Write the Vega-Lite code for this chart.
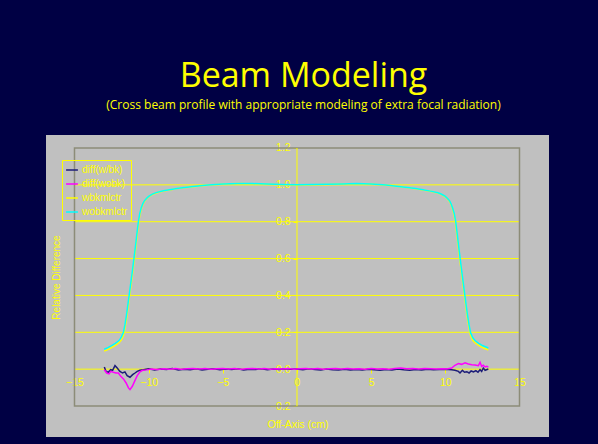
{
  "$schema": "https://vega.github.io/schema/vega-lite/v6.json",
  "width": 503,
  "height": 302,
  "autosize": "none",
  "padding": {"left": 46, "top": 135, "right": 49, "bottom": 7},
  "background": "#000044",
  "title": {
    "text": "Beam Modeling",
    "subtitle": "(Cross beam profile with appropriate modeling of extra focal radiation)",
    "anchor": "middle",
    "font": "Open Sans",
    "fontSize": 34,
    "fontWeight": "normal",
    "color": "#ffff00",
    "subtitleFont": "Open Sans",
    "subtitleFontSize": 12,
    "subtitleColor": "#ffff00",
    "subtitlePadding": 6,
    "offset": 24,
    "dx": 6
  },
  "config": {
    "view": {"fill": "#c0c0c0", "stroke": null}
  },
  "datasets": {
    "grid": [
      {"x": -15, "value": 0}, {"x": -15, "value": 0.2}, {"x": -15, "value": 0.4}, {"x": -15, "value": 0.6}, {"x": -15, "value": 0.8}, {"x": -15, "value": 1.0}
    ],
    "one": [{"x": 0, "value": -0.2}],
    "curves": [
      {"x": -12.99, "value": 0.012, "series": "diff(w/bk)"},
      {"x": -12.88, "value": -0.012, "series": "diff(w/bk)"},
      {"x": -12.72, "value": -0.017, "series": "diff(w/bk)"},
      {"x": -12.56, "value": -0.003, "series": "diff(w/bk)"},
      {"x": -12.43, "value": -0.006, "series": "diff(w/bk)"},
      {"x": -12.27, "value": 0.019, "series": "diff(w/bk)"},
      {"x": -12.12, "value": 0.006, "series": "diff(w/bk)"},
      {"x": -11.94, "value": -0.012, "series": "diff(w/bk)"},
      {"x": -11.76, "value": -0.021, "series": "diff(w/bk)"},
      {"x": -11.6, "value": -0.015, "series": "diff(w/bk)"},
      {"x": -11.45, "value": -0.035, "series": "diff(w/bk)"},
      {"x": -11.26, "value": -0.044, "series": "diff(w/bk)"},
      {"x": -11.08, "value": -0.03, "series": "diff(w/bk)"},
      {"x": -10.92, "value": -0.021, "series": "diff(w/bk)"},
      {"x": -10.77, "value": -0.012, "series": "diff(w/bk)"},
      {"x": -10.59, "value": -0.006, "series": "diff(w/bk)"},
      {"x": -10.36, "value": -0.003, "series": "diff(w/bk)"},
      {"x": -10.0, "value": 0.002, "series": "diff(w/bk)"},
      {"x": -9.6, "value": -0.004, "series": "diff(w/bk)"},
      {"x": -9.2, "value": 0.001, "series": "diff(w/bk)"},
      {"x": -8.8, "value": -0.002, "series": "diff(w/bk)"},
      {"x": -8.4, "value": 0.003, "series": "diff(w/bk)"},
      {"x": -8.0, "value": -0.005, "series": "diff(w/bk)"},
      {"x": -7.6, "value": 0.0, "series": "diff(w/bk)"},
      {"x": -7.2, "value": -0.003, "series": "diff(w/bk)"},
      {"x": -6.8, "value": 0.002, "series": "diff(w/bk)"},
      {"x": -6.4, "value": -0.004, "series": "diff(w/bk)"},
      {"x": -6.0, "value": -0.001, "series": "diff(w/bk)"},
      {"x": -5.6, "value": 0.002, "series": "diff(w/bk)"},
      {"x": -5.2, "value": -0.003, "series": "diff(w/bk)"},
      {"x": -4.8, "value": 0.001, "series": "diff(w/bk)"},
      {"x": -4.4, "value": -0.002, "series": "diff(w/bk)"},
      {"x": -4.0, "value": 0.002, "series": "diff(w/bk)"},
      {"x": -3.6, "value": -0.004, "series": "diff(w/bk)"},
      {"x": -3.2, "value": 0.0, "series": "diff(w/bk)"},
      {"x": -2.8, "value": -0.002, "series": "diff(w/bk)"},
      {"x": -2.4, "value": 0.002, "series": "diff(w/bk)"},
      {"x": -2.0, "value": -0.003, "series": "diff(w/bk)"},
      {"x": -1.6, "value": 0.001, "series": "diff(w/bk)"},
      {"x": -1.2, "value": -0.002, "series": "diff(w/bk)"},
      {"x": -0.8, "value": 0.002, "series": "diff(w/bk)"},
      {"x": -0.4, "value": -0.001, "series": "diff(w/bk)"},
      {"x": 0.0, "value": 0.001, "series": "diff(w/bk)"},
      {"x": 0.4, "value": -0.003, "series": "diff(w/bk)"},
      {"x": 0.8, "value": 0.002, "series": "diff(w/bk)"},
      {"x": 1.2, "value": -0.002, "series": "diff(w/bk)"},
      {"x": 1.6, "value": -0.004, "series": "diff(w/bk)"},
      {"x": 2.0, "value": 0.001, "series": "diff(w/bk)"},
      {"x": 2.4, "value": -0.003, "series": "diff(w/bk)"},
      {"x": 2.8, "value": -0.005, "series": "diff(w/bk)"},
      {"x": 3.2, "value": 0.0, "series": "diff(w/bk)"},
      {"x": 3.6, "value": -0.004, "series": "diff(w/bk)"},
      {"x": 4.0, "value": -0.002, "series": "diff(w/bk)"},
      {"x": 4.4, "value": -0.005, "series": "diff(w/bk)"},
      {"x": 4.8, "value": -0.001, "series": "diff(w/bk)"},
      {"x": 5.2, "value": -0.003, "series": "diff(w/bk)"},
      {"x": 5.6, "value": -0.006, "series": "diff(w/bk)"},
      {"x": 6.0, "value": -0.002, "series": "diff(w/bk)"},
      {"x": 6.4, "value": -0.004, "series": "diff(w/bk)"},
      {"x": 6.8, "value": 0.001, "series": "diff(w/bk)"},
      {"x": 7.2, "value": -0.003, "series": "diff(w/bk)"},
      {"x": 7.6, "value": -0.006, "series": "diff(w/bk)"},
      {"x": 8.0, "value": -0.002, "series": "diff(w/bk)"},
      {"x": 8.4, "value": -0.004, "series": "diff(w/bk)"},
      {"x": 8.8, "value": 0.0, "series": "diff(w/bk)"},
      {"x": 9.2, "value": -0.003, "series": "diff(w/bk)"},
      {"x": 9.6, "value": -0.002, "series": "diff(w/bk)"},
      {"x": 10.0, "value": -0.001, "series": "diff(w/bk)"},
      {"x": 10.43, "value": -0.003, "series": "diff(w/bk)"},
      {"x": 10.65, "value": -0.006, "series": "diff(w/bk)"},
      {"x": 10.88, "value": -0.012, "series": "diff(w/bk)"},
      {"x": 10.99, "value": -0.021, "series": "diff(w/bk)"},
      {"x": 11.15, "value": -0.006, "series": "diff(w/bk)"},
      {"x": 11.29, "value": -0.017, "series": "diff(w/bk)"},
      {"x": 11.45, "value": -0.014, "series": "diff(w/bk)"},
      {"x": 11.6, "value": -0.021, "series": "diff(w/bk)"},
      {"x": 11.74, "value": -0.01, "series": "diff(w/bk)"},
      {"x": 11.9, "value": -0.015, "series": "diff(w/bk)"},
      {"x": 12.06, "value": -0.008, "series": "diff(w/bk)"},
      {"x": 12.2, "value": -0.017, "series": "diff(w/bk)"},
      {"x": 12.34, "value": -0.003, "series": "diff(w/bk)"},
      {"x": 12.45, "value": -0.012, "series": "diff(w/bk)"},
      {"x": 12.56, "value": 0.006, "series": "diff(w/bk)"},
      {"x": 12.68, "value": -0.006, "series": "diff(w/bk)"},
      {"x": 12.9, "value": 0.001, "series": "diff(w/bk)"},

      {"x": -12.99, "value": -0.003, "series": "diff(wobk)"},
      {"x": -12.83, "value": -0.021, "series": "diff(wobk)"},
      {"x": -12.67, "value": -0.026, "series": "diff(wobk)"},
      {"x": -12.56, "value": -0.012, "series": "diff(wobk)"},
      {"x": -12.38, "value": -0.017, "series": "diff(wobk)"},
      {"x": -12.2, "value": -0.021, "series": "diff(wobk)"},
      {"x": -12.04, "value": -0.021, "series": "diff(wobk)"},
      {"x": -11.88, "value": -0.039, "series": "diff(wobk)"},
      {"x": -11.7, "value": -0.053, "series": "diff(wobk)"},
      {"x": -11.52, "value": -0.075, "series": "diff(wobk)"},
      {"x": -11.36, "value": -0.102, "series": "diff(wobk)"},
      {"x": -11.26, "value": -0.111, "series": "diff(wobk)"},
      {"x": -11.1, "value": -0.093, "series": "diff(wobk)"},
      {"x": -10.92, "value": -0.061, "series": "diff(wobk)"},
      {"x": -10.77, "value": -0.035, "series": "diff(wobk)"},
      {"x": -10.59, "value": -0.014, "series": "diff(wobk)"},
      {"x": -10.41, "value": -0.006, "series": "diff(wobk)"},
      {"x": -10.14, "value": -0.004, "series": "diff(wobk)"},
      {"x": -9.8, "value": 0.001, "series": "diff(wobk)"},
      {"x": -9.4, "value": -0.002, "series": "diff(wobk)"},
      {"x": -9.0, "value": 0.002, "series": "diff(wobk)"},
      {"x": -8.6, "value": 0.0, "series": "diff(wobk)"},
      {"x": -8.2, "value": 0.003, "series": "diff(wobk)"},
      {"x": -7.8, "value": -0.001, "series": "diff(wobk)"},
      {"x": -7.4, "value": 0.002, "series": "diff(wobk)"},
      {"x": -7.0, "value": 0.004, "series": "diff(wobk)"},
      {"x": -6.6, "value": 0.001, "series": "diff(wobk)"},
      {"x": -6.2, "value": 0.003, "series": "diff(wobk)"},
      {"x": -5.8, "value": -0.001, "series": "diff(wobk)"},
      {"x": -5.4, "value": 0.002, "series": "diff(wobk)"},
      {"x": -5.0, "value": 0.004, "series": "diff(wobk)"},
      {"x": -4.6, "value": 0.001, "series": "diff(wobk)"},
      {"x": -4.2, "value": 0.003, "series": "diff(wobk)"},
      {"x": -3.8, "value": 0.0, "series": "diff(wobk)"},
      {"x": -3.4, "value": 0.002, "series": "diff(wobk)"},
      {"x": -3.0, "value": 0.004, "series": "diff(wobk)"},
      {"x": -2.6, "value": 0.001, "series": "diff(wobk)"},
      {"x": -2.2, "value": 0.003, "series": "diff(wobk)"},
      {"x": -1.8, "value": 0.0, "series": "diff(wobk)"},
      {"x": -1.4, "value": 0.002, "series": "diff(wobk)"},
      {"x": -1.0, "value": 0.001, "series": "diff(wobk)"},
      {"x": -0.6, "value": 0.003, "series": "diff(wobk)"},
      {"x": -0.2, "value": 0.0, "series": "diff(wobk)"},
      {"x": 0.2, "value": 0.002, "series": "diff(wobk)"},
      {"x": 0.6, "value": 0.004, "series": "diff(wobk)"},
      {"x": 1.0, "value": 0.001, "series": "diff(wobk)"},
      {"x": 1.4, "value": 0.003, "series": "diff(wobk)"},
      {"x": 1.8, "value": 0.0, "series": "diff(wobk)"},
      {"x": 2.2, "value": 0.002, "series": "diff(wobk)"},
      {"x": 2.6, "value": 0.004, "series": "diff(wobk)"},
      {"x": 3.0, "value": 0.001, "series": "diff(wobk)"},
      {"x": 3.4, "value": 0.003, "series": "diff(wobk)"},
      {"x": 3.8, "value": 0.001, "series": "diff(wobk)"},
      {"x": 4.2, "value": 0.002, "series": "diff(wobk)"},
      {"x": 4.6, "value": 0.0, "series": "diff(wobk)"},
      {"x": 5.0, "value": 0.003, "series": "diff(wobk)"},
      {"x": 5.4, "value": 0.001, "series": "diff(wobk)"},
      {"x": 5.8, "value": 0.002, "series": "diff(wobk)"},
      {"x": 6.2, "value": 0.0, "series": "diff(wobk)"},
      {"x": 6.6, "value": 0.004, "series": "diff(wobk)"},
      {"x": 7.0, "value": 0.006, "series": "diff(wobk)"},
      {"x": 7.4, "value": 0.002, "series": "diff(wobk)"},
      {"x": 7.8, "value": 0.003, "series": "diff(wobk)"},
      {"x": 8.2, "value": 0.001, "series": "diff(wobk)"},
      {"x": 8.6, "value": 0.003, "series": "diff(wobk)"},
      {"x": 9.0, "value": 0.002, "series": "diff(wobk)"},
      {"x": 9.4, "value": 0.001, "series": "diff(wobk)"},
      {"x": 9.8, "value": 0.002, "series": "diff(wobk)"},
      {"x": 10.09, "value": 0.001, "series": "diff(wobk)"},
      {"x": 10.43, "value": 0.006, "series": "diff(wobk)"},
      {"x": 10.65, "value": 0.021, "series": "diff(wobk)"},
      {"x": 10.88, "value": 0.03, "series": "diff(wobk)"},
      {"x": 11.1, "value": 0.026, "series": "diff(wobk)"},
      {"x": 11.33, "value": 0.034, "series": "diff(wobk)"},
      {"x": 11.55, "value": 0.028, "series": "diff(wobk)"},
      {"x": 11.78, "value": 0.024, "series": "diff(wobk)"},
      {"x": 12.0, "value": 0.023, "series": "diff(wobk)"},
      {"x": 12.23, "value": 0.019, "series": "diff(wobk)"},
      {"x": 12.34, "value": 0.037, "series": "diff(wobk)"},
      {"x": 12.45, "value": 0.015, "series": "diff(wobk)"},
      {"x": 12.56, "value": 0.021, "series": "diff(wobk)"},
      {"x": 12.68, "value": 0.012, "series": "diff(wobk)"},
      {"x": 12.79, "value": 0.015, "series": "diff(wobk)"},
      {"x": 12.9, "value": 0.012, "series": "diff(wobk)"},

      {"x": -13.0, "value": 0.098, "series": "wbkmlctr"},
      {"x": -12.75, "value": 0.106, "series": "wbkmlctr"},
      {"x": -12.5, "value": 0.117, "series": "wbkmlctr"},
      {"x": -12.25, "value": 0.129, "series": "wbkmlctr"},
      {"x": -12.0, "value": 0.143, "series": "wbkmlctr"},
      {"x": -11.85, "value": 0.158, "series": "wbkmlctr"},
      {"x": -11.7, "value": 0.183, "series": "wbkmlctr"},
      {"x": -11.6, "value": 0.22, "series": "wbkmlctr"},
      {"x": -11.5, "value": 0.268, "series": "wbkmlctr"},
      {"x": -11.3, "value": 0.39, "series": "wbkmlctr"},
      {"x": -11.1, "value": 0.51, "series": "wbkmlctr"},
      {"x": -10.9, "value": 0.64, "series": "wbkmlctr"},
      {"x": -10.8, "value": 0.71, "series": "wbkmlctr"},
      {"x": -10.7, "value": 0.778, "series": "wbkmlctr"},
      {"x": -10.6, "value": 0.834, "series": "wbkmlctr"},
      {"x": -10.5, "value": 0.868, "series": "wbkmlctr"},
      {"x": -10.4, "value": 0.892, "series": "wbkmlctr"},
      {"x": -10.3, "value": 0.908, "series": "wbkmlctr"},
      {"x": -10.15, "value": 0.923, "series": "wbkmlctr"},
      {"x": -10.0, "value": 0.935, "series": "wbkmlctr"},
      {"x": -9.75, "value": 0.948, "series": "wbkmlctr"},
      {"x": -9.5, "value": 0.956, "series": "wbkmlctr"},
      {"x": -9.0, "value": 0.967, "series": "wbkmlctr"},
      {"x": -8.5, "value": 0.974, "series": "wbkmlctr"},
      {"x": -8.0, "value": 0.981, "series": "wbkmlctr"},
      {"x": -7.0, "value": 0.99, "series": "wbkmlctr"},
      {"x": -6.0, "value": 0.998, "series": "wbkmlctr"},
      {"x": -5.0, "value": 1.004, "series": "wbkmlctr"},
      {"x": -4.0, "value": 1.007, "series": "wbkmlctr"},
      {"x": -3.0, "value": 1.006, "series": "wbkmlctr"},
      {"x": -2.0, "value": 1.003, "series": "wbkmlctr"},
      {"x": -1.0, "value": 1.001, "series": "wbkmlctr"},
      {"x": 0.0, "value": 0.999, "series": "wbkmlctr"},
      {"x": 1.0, "value": 1.001, "series": "wbkmlctr"},
      {"x": 2.0, "value": 1.002, "series": "wbkmlctr"},
      {"x": 3.0, "value": 1.004, "series": "wbkmlctr"},
      {"x": 4.0, "value": 1.006, "series": "wbkmlctr"},
      {"x": 5.0, "value": 1.004, "series": "wbkmlctr"},
      {"x": 6.0, "value": 0.998, "series": "wbkmlctr"},
      {"x": 7.0, "value": 0.989, "series": "wbkmlctr"},
      {"x": 8.0, "value": 0.979, "series": "wbkmlctr"},
      {"x": 8.5, "value": 0.972, "series": "wbkmlctr"},
      {"x": 9.0, "value": 0.965, "series": "wbkmlctr"},
      {"x": 9.5, "value": 0.955, "series": "wbkmlctr"},
      {"x": 9.75, "value": 0.947, "series": "wbkmlctr"},
      {"x": 10.0, "value": 0.935, "series": "wbkmlctr"},
      {"x": 10.15, "value": 0.923, "series": "wbkmlctr"},
      {"x": 10.3, "value": 0.908, "series": "wbkmlctr"},
      {"x": 10.4, "value": 0.89, "series": "wbkmlctr"},
      {"x": 10.5, "value": 0.865, "series": "wbkmlctr"},
      {"x": 10.6, "value": 0.834, "series": "wbkmlctr"},
      {"x": 10.7, "value": 0.783, "series": "wbkmlctr"},
      {"x": 10.8, "value": 0.715, "series": "wbkmlctr"},
      {"x": 10.9, "value": 0.645, "series": "wbkmlctr"},
      {"x": 11.1, "value": 0.515, "series": "wbkmlctr"},
      {"x": 11.3, "value": 0.39, "series": "wbkmlctr"},
      {"x": 11.5, "value": 0.27, "series": "wbkmlctr"},
      {"x": 11.6, "value": 0.222, "series": "wbkmlctr"},
      {"x": 11.7, "value": 0.182, "series": "wbkmlctr"},
      {"x": 11.85, "value": 0.157, "series": "wbkmlctr"},
      {"x": 12.0, "value": 0.143, "series": "wbkmlctr"},
      {"x": 12.25, "value": 0.129, "series": "wbkmlctr"},
      {"x": 12.5, "value": 0.117, "series": "wbkmlctr"},
      {"x": 12.75, "value": 0.109, "series": "wbkmlctr"},
      {"x": 12.9, "value": 0.104, "series": "wbkmlctr"},

      {"x": -13.0, "value": 0.108, "series": "wobkmlctr"},
      {"x": -12.75, "value": 0.117, "series": "wobkmlctr"},
      {"x": -12.5, "value": 0.128, "series": "wobkmlctr"},
      {"x": -12.25, "value": 0.14, "series": "wobkmlctr"},
      {"x": -12.0, "value": 0.155, "series": "wobkmlctr"},
      {"x": -11.85, "value": 0.172, "series": "wobkmlctr"},
      {"x": -11.7, "value": 0.2, "series": "wobkmlctr"},
      {"x": -11.6, "value": 0.24, "series": "wobkmlctr"},
      {"x": -11.5, "value": 0.29, "series": "wobkmlctr"},
      {"x": -11.3, "value": 0.41, "series": "wobkmlctr"},
      {"x": -11.1, "value": 0.53, "series": "wobkmlctr"},
      {"x": -10.9, "value": 0.66, "series": "wobkmlctr"},
      {"x": -10.8, "value": 0.73, "series": "wobkmlctr"},
      {"x": -10.7, "value": 0.795, "series": "wobkmlctr"},
      {"x": -10.6, "value": 0.845, "series": "wobkmlctr"},
      {"x": -10.5, "value": 0.875, "series": "wobkmlctr"},
      {"x": -10.4, "value": 0.897, "series": "wobkmlctr"},
      {"x": -10.3, "value": 0.912, "series": "wobkmlctr"},
      {"x": -10.15, "value": 0.926, "series": "wobkmlctr"},
      {"x": -10.0, "value": 0.937, "series": "wobkmlctr"},
      {"x": -9.75, "value": 0.95, "series": "wobkmlctr"},
      {"x": -9.5, "value": 0.958, "series": "wobkmlctr"},
      {"x": -9.0, "value": 0.968, "series": "wobkmlctr"},
      {"x": -8.5, "value": 0.975, "series": "wobkmlctr"},
      {"x": -8.0, "value": 0.982, "series": "wobkmlctr"},
      {"x": -7.0, "value": 0.991, "series": "wobkmlctr"},
      {"x": -6.0, "value": 0.999, "series": "wobkmlctr"},
      {"x": -5.0, "value": 1.005, "series": "wobkmlctr"},
      {"x": -4.0, "value": 1.008, "series": "wobkmlctr"},
      {"x": -3.0, "value": 1.007, "series": "wobkmlctr"},
      {"x": -2.0, "value": 1.004, "series": "wobkmlctr"},
      {"x": -1.0, "value": 1.002, "series": "wobkmlctr"},
      {"x": 0.0, "value": 1.0, "series": "wobkmlctr"},
      {"x": 1.0, "value": 1.002, "series": "wobkmlctr"},
      {"x": 2.0, "value": 1.003, "series": "wobkmlctr"},
      {"x": 3.0, "value": 1.005, "series": "wobkmlctr"},
      {"x": 4.0, "value": 1.007, "series": "wobkmlctr"},
      {"x": 5.0, "value": 1.005, "series": "wobkmlctr"},
      {"x": 6.0, "value": 0.999, "series": "wobkmlctr"},
      {"x": 7.0, "value": 0.99, "series": "wobkmlctr"},
      {"x": 8.0, "value": 0.98, "series": "wobkmlctr"},
      {"x": 8.5, "value": 0.973, "series": "wobkmlctr"},
      {"x": 9.0, "value": 0.966, "series": "wobkmlctr"},
      {"x": 9.5, "value": 0.957, "series": "wobkmlctr"},
      {"x": 9.75, "value": 0.949, "series": "wobkmlctr"},
      {"x": 10.0, "value": 0.937, "series": "wobkmlctr"},
      {"x": 10.15, "value": 0.926, "series": "wobkmlctr"},
      {"x": 10.3, "value": 0.912, "series": "wobkmlctr"},
      {"x": 10.4, "value": 0.895, "series": "wobkmlctr"},
      {"x": 10.5, "value": 0.872, "series": "wobkmlctr"},
      {"x": 10.6, "value": 0.845, "series": "wobkmlctr"},
      {"x": 10.7, "value": 0.8, "series": "wobkmlctr"},
      {"x": 10.8, "value": 0.735, "series": "wobkmlctr"},
      {"x": 10.9, "value": 0.665, "series": "wobkmlctr"},
      {"x": 11.1, "value": 0.535, "series": "wobkmlctr"},
      {"x": 11.3, "value": 0.41, "series": "wobkmlctr"},
      {"x": 11.5, "value": 0.29, "series": "wobkmlctr"},
      {"x": 11.6, "value": 0.24, "series": "wobkmlctr"},
      {"x": 11.7, "value": 0.198, "series": "wobkmlctr"},
      {"x": 11.85, "value": 0.17, "series": "wobkmlctr"},
      {"x": 12.0, "value": 0.155, "series": "wobkmlctr"},
      {"x": 12.25, "value": 0.14, "series": "wobkmlctr"},
      {"x": 12.5, "value": 0.128, "series": "wobkmlctr"},
      {"x": 12.75, "value": 0.12, "series": "wobkmlctr"},
      {"x": 12.9, "value": 0.115, "series": "wobkmlctr"}
    ]
  },
  "encoding": {
    "x": {
      "field": "x", "type": "quantitative",
      "scale": {"domain": [-16.921, 16.989], "nice": false, "zero": false},
      "axis": {
        "orient": "bottom", "offset": -68, "values": [-15, -10, -5, 0, 5, 10, 15],
        "domain": false, "grid": false, "tickColor": "#ffff00", "tickSize": 4,
        "labelColor": "#ffff00", "labelFont": "Liberation Sans", "labelFontSize": 10.5,
        "labelPadding": 4, "labelOverlap": false, "labelBound": false, "labelFlush": false,
        "title": "Off-Axis (cm)", "titleColor": "#ffff00", "titleFont": "Liberation Sans",
        "titleFontSize": 10.5, "titleFontWeight": "normal", "titleY": 55, "titleBaseline": "middle"
      }
    },
    "y": {
      "field": "value", "type": "quantitative",
      "scale": {"domain": [-0.3682, 1.2705], "nice": false, "zero": false},
      "axis": {
        "orient": "left", "offset": -251, "values": [-0.2, 0, 0.2, 0.4, 0.6, 0.8, 1.0, 1.2],
        "format": ".1f", "domain": false, "grid": false, "tickColor": "#ffff00", "tickSize": 4,
        "labelColor": "#ffff00", "labelFont": "Liberation Sans", "labelFontSize": 10.5,
        "labelPadding": 3, "labelOverlap": false, "labelBound": false, "labelFlush": false,
        "title": "Relative Difference", "titleColor": "#ffff00", "titleFont": "Liberation Sans",
        "titleFontSize": 10, "titleFontWeight": "normal", "titleAngle": -90,
        "titleX": -236, "titleY": 142, "titleBaseline": "bottom"
      }
    }
  },
  "layer": [
    {
      "data": {"name": "grid"},
      "mark": {"type": "rule", "color": "#ffff00", "strokeWidth": 1},
      "encoding": {
        "x2": {"datum": 15}
      }
    },
    {
      "data": {"name": "one"},
      "mark": {"type": "rect", "fill": null, "fillOpacity": 0, "stroke": "#8c8c78", "strokeWidth": 1.5},
      "encoding": {
        "x": {"datum": -15, "type": "quantitative"},
        "x2": {"datum": 15},
        "y2": {"datum": 1.2}
      }
    },
    {
      "data": {"name": "one"},
      "mark": {"type": "rule", "color": "#ffff00", "strokeWidth": 1},
      "encoding": {
        "y2": {"datum": 1.2}
      }
    },
    {
      "data": {"name": "curves"},
      "mark": {"type": "line", "strokeWidth": 1.5, "interpolate": "linear"},
      "encoding": {
        "color": {
          "field": "series", "type": "nominal",
          "scale": {"domain": ["diff(w/bk)", "diff(wobk)", "wbkmlctr", "wobkmlctr"], "range": ["#1c1c78", "#ff00ff", "#ffff00", "#00ffff"]},
          "legend": {
            "orient": "none", "legendX": 16, "legendY": 25, "title": null,
            "strokeColor": "#ffff00", "padding": 3, "labelColor": "#ffff00",
            "labelFont": "Liberation Sans", "labelFontSize": 10, "symbolType": "stroke",
            "symbolStrokeWidth": 1.5, "symbolSize": 140, "rowPadding": 2, "labelOffset": 3
          }
        }
      }
    }
  ]
}
